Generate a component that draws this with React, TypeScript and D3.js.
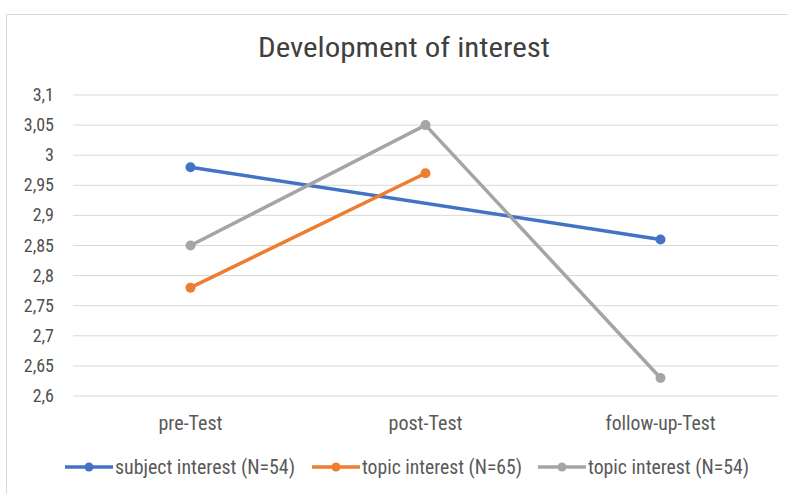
import React from "react";
import * as d3 from "d3";

const categories = ["pre-Test", "post-Test", "follow-up-Test"];
const seriesNames = ["subject interest (N=54)", "topic interest (N=65)", "topic interest (N=54)"];
const subjectInterest54 = [2.98, null, 2.86];
const topicInterest65 = [2.78, 2.97, null];
const topicInterest54 = [2.85, 3.05, 2.63];
const yTicks = [2.6, 2.65, 2.7, 2.75, 2.8, 2.85, 2.9, 2.95, 3, 3.05, 3.1];
const colors = ["#4472C4", "#ED7D31", "#A5A5A5"];

const W = 788, H = 494;
const FONT = "'Roboto Condensed', 'Roboto', sans-serif";

export default function App() {
  const series = [subjectInterest54, topicInterest65, topicInterest54];
  const x = d3.scaleBand<string>().domain(categories).range([73, 778]);
  const y = d3.scaleLinear().domain([2.6, 3.1]).range([396, 95]);
  const cx = (c: string) => (x(c) as number) + x.bandwidth() / 2;
  const line = d3
    .line<{ c: string; v: number }>()
    .x((d) => cx(d.c))
    .y((d) => y(d.v));
  const pts = (s: (number | null)[]) =>
    s.map((v, i) => ({ c: categories[i], v })).filter((d) => d.v != null) as { c: string; v: number }[];
  const fmt = (v: number) => String(+v.toFixed(2)).replace(".", ",");
  const legendX = [65, 312, 538];
  const legendTextLen = [180, 160, 161];
  const catLen = [64, 74, 110];

  return (
    <svg width={W} height={H} style={{ position: "absolute", left: 0, top: 0, background: "#fff" }} fontFamily={FONT}>
      <rect x={6.5} y={14.5} width={790} height={490} fill="#fff" stroke="#d9d9d9" />
      <text x={404} y={57} textAnchor="middle" fontSize={28} fill="#404040" textLength={292} lengthAdjust="spacingAndGlyphs">Development of interest</text>
      {yTicks.map((t) => (
        <g key={t}>
          <line x1={73} x2={778} y1={y(t)} y2={y(t)} stroke="#d9d9d9" strokeWidth={1} />
          <text x={54} y={y(t) + 6} textAnchor="end" fontSize={18} fill="#505050">{fmt(t)}</text>
        </g>
      ))}
      {categories.map((c, i) => (
        <text key={c} x={cx(c)} y={430} textAnchor="middle" fontSize={20} fill="#595959" textLength={catLen[i]} lengthAdjust="spacingAndGlyphs">{c}</text>
      ))}
      {series.map((s, k) => (
        <g key={k}>
          <path d={line(pts(s)) || ""} fill="none" stroke={colors[k]} strokeWidth={3.5} strokeLinecap="round" />
          {pts(s).map((d) => (
            <circle key={d.c} cx={cx(d.c)} cy={y(d.v)} r={5} fill={colors[k]} />
          ))}
        </g>
      ))}
      {seriesNames.map((n, k) => (
        <g key={n} transform={`translate(${legendX[k]},467)`}>
          <line x1={0} x2={48} y1={0} y2={0} stroke={colors[k]} strokeWidth={3.5} />
          <circle cx={24} cy={0} r={4.5} fill={colors[k]} />
          <text x={50} y={7} fontSize={20} fill="#595959" textLength={legendTextLen[k]} lengthAdjust="spacingAndGlyphs">{n}</text>
        </g>
      ))}
    </svg>
  );
}
